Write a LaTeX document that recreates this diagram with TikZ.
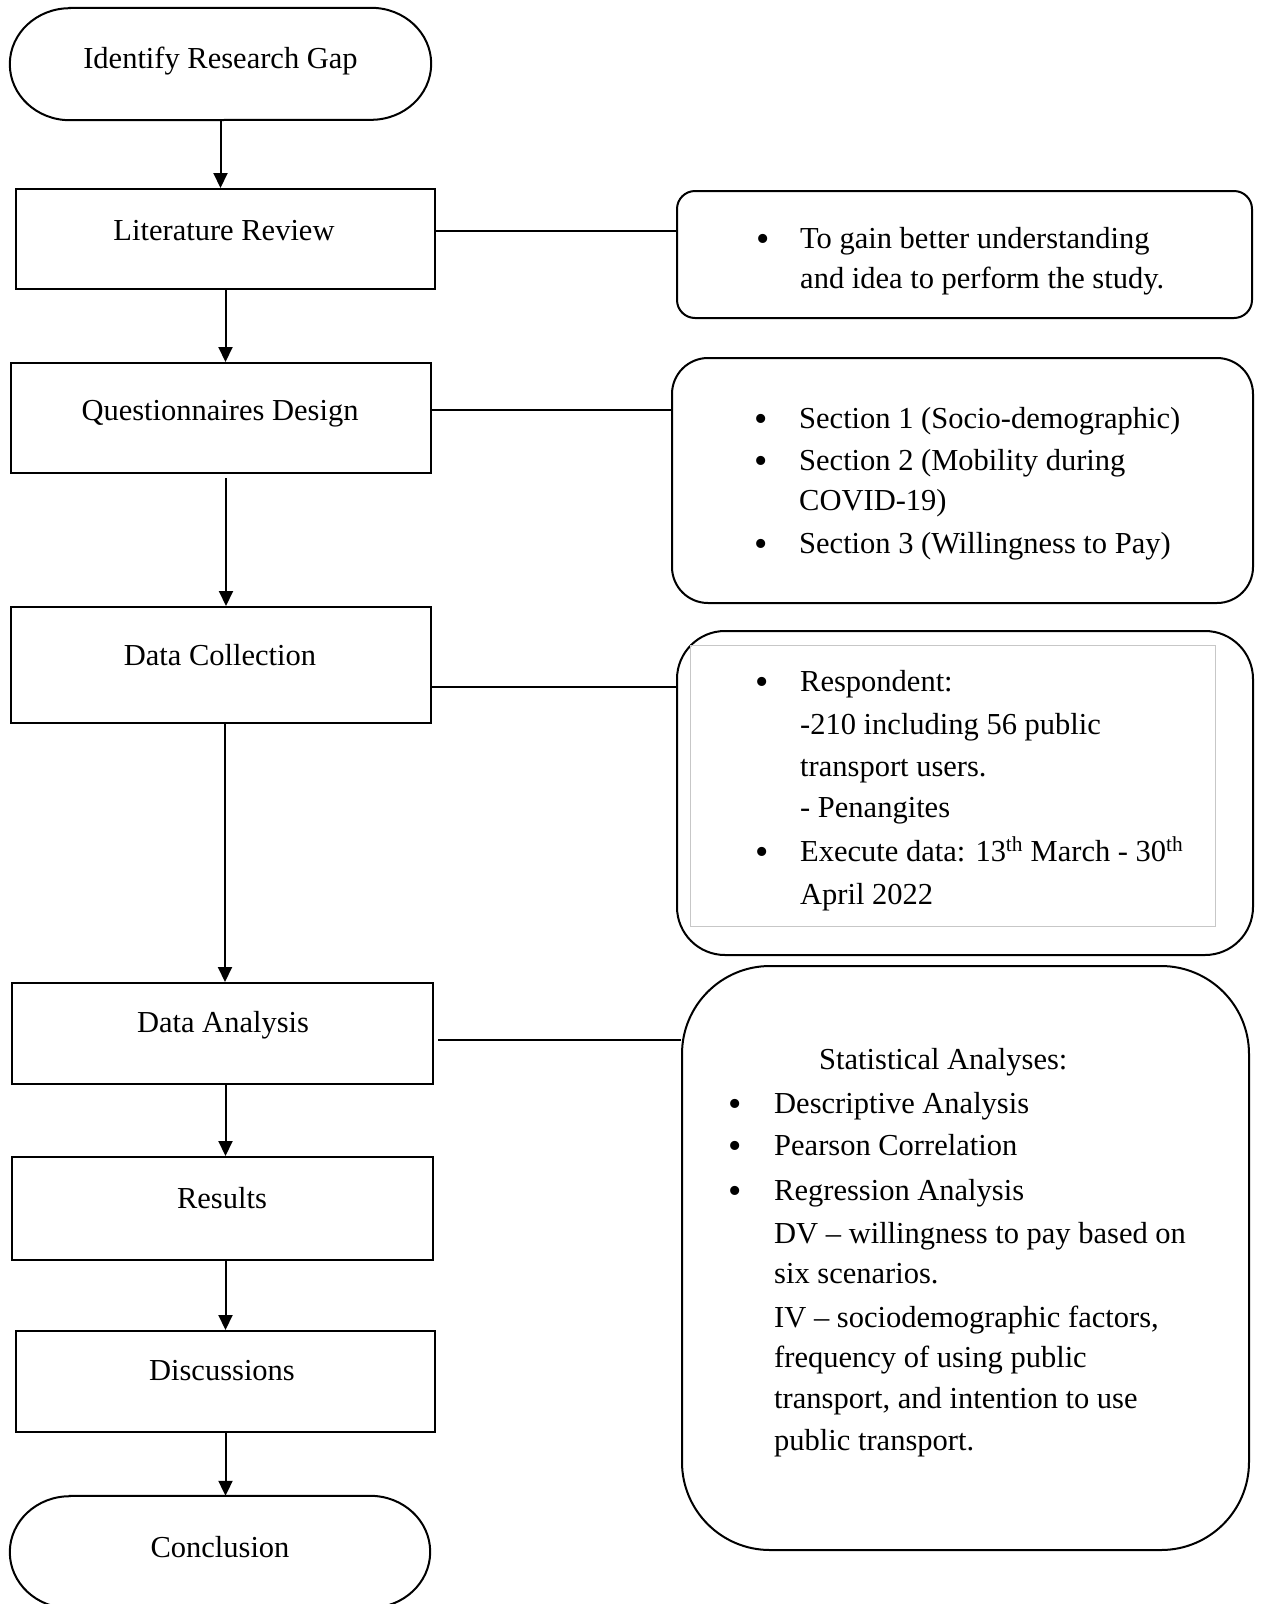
\documentclass[tikz,border=0pt]{standalone}
\usepackage{fontspec}
\setmainfont{Liberation Serif}
\usetikzlibrary{arrows.meta}
\tikzset{
  box/.style={draw, line width=2pt, rectangle, inner sep=0pt},
  rbox/.style={draw, line width=2pt, rectangle, inner sep=0pt},
  txt/.style={inner sep=0pt, font=\fontsize{30.5}{41}\selectfont},
  bul/.style={inner sep=0pt, yshift=-3pt, font=\fontsize{38}{41}\selectfont},
  arr/.style={line width=2pt, -{Triangle[width=14pt,length=15pt]}},
  conn/.style={line width=2pt},
}
\newcommand\ovalpath[1]{%
  \draw[line width=2pt] ([xshift=60pt]#1.north west) -- ([xshift=-60pt]#1.north east)
    arc[start angle=90, end angle=-90, x radius=60pt, y radius=56pt]
    -- ([xshift=60pt]#1.south west)
    arc[start angle=270, end angle=90, x radius=60pt, y radius=56pt] -- cycle;}
\begin{document}
\begin{tikzpicture}[x=1pt,y=-1pt]
\useasboundingbox[fill=white] (0,0) rectangle (1262,1604);

% left column
\node[inner sep=0pt, minimum width=421pt, minimum height=112pt] (gap) at (220.5,64) {};
\ovalpath{gap}
\node[box, minimum width=419pt, minimum height=100pt] (lit) at (225.5,239) {};
\node[box, minimum width=420pt, minimum height=110pt] (quest) at (221,418) {};
\node[box, minimum width=420pt, minimum height=116pt] (data) at (221,665) {};
\node[box, minimum width=421pt, minimum height=101pt] (anal) at (222.5,1033.5) {};
\node[box, minimum width=421pt, minimum height=103pt] (res) at (222.5,1208.5) {};
\node[box, minimum width=419pt, minimum height=101pt] (disc) at (225.5,1381.5) {};
\node[inner sep=0pt, minimum width=420pt, minimum height=112pt] (concl) at (220,1552) {};
\ovalpath{concl}

\node[txt, anchor=base] (gapT) at (220.5,68) {Identify Research Gap};
\node[txt, anchor=base] (litT) at (224,240) {Literature Review};
\node[txt, anchor=base] (questT) at (220,420) {Questionnaires Design};
\node[txt, anchor=base] (dataT) at (220,665) {Data Collection};
\node[txt, anchor=base] (analT) at (223,1032) {Data Analysis};
\node[txt, anchor=base] (resT) at (222,1208) {Results};
\node[txt, anchor=base] (discT) at (222,1380) {Discussions};
\node[txt, anchor=base] (conclT) at (220,1557) {Conclusion};

% arrows
\draw[arr] (gap.south) -- (gap.south |- lit.north);
\draw[arr] (lit.south) -- (lit.south |- quest.north);
\path ([xshift=5pt]quest.south) coordinate (q1);
\draw[arr] ([yshift=-4pt]q1) -- (q1 |- data.north);
\path ([xshift=4pt]data.south) coordinate (d1);
\draw[arr] (d1) -- (d1 |- anal.north);
\path ([xshift=3pt]anal.south) coordinate (a1);
\draw[arr] (a1) -- (a1 |- res.north);
\path ([xshift=3pt]res.south) coordinate (r1);
\draw[arr] (r1) -- (r1 |- disc.north);
\draw[arr] (disc.south) -- (disc.south |- concl.north);

% right boxes
\node[rbox, rounded corners=18pt, minimum width=575pt, minimum height=127pt] (b1) at (964.5,254.5) {};
\node[rbox, rounded corners=36pt, minimum width=581pt, minimum height=245pt] (b2) at (962.5,480.5) {};
\node[rbox, rounded corners=48pt, minimum width=576pt, minimum height=324pt] (b3) at (965,793) {};
\node[draw=black!22, line width=1pt, inner sep=0pt, minimum width=525pt, minimum height=281pt] (b3in) at (952.5,785.5) {};
\node[rbox, rounded corners=88pt, minimum width=567pt, minimum height=584pt] (b4) at (965.5,1258) {};

% connectors
\path ([yshift=8pt]lit.east) coordinate (c1);
\draw[conn] (c1) -- (c1 -| b1.west);
\path ([yshift=8pt]quest.east) coordinate (c2);
\draw[conn] (c2) -- (c2 -| b2.west);
\path ([yshift=-22pt]data.east) coordinate (c3);
\draw[conn] (c3) -- (c3 -| b3.west);
\path ([yshift=-6.5pt,xshift=4pt]anal.east) coordinate (c4);
\draw[conn] (c4) -- (c4 -| b4.west);

% box 1 text
\node[bul, anchor=base] (b1u1) at (763,248) {\textbullet};
\node[txt, anchor=base west] (b1l1) at (800,248) {To gain better understanding};
\node[txt, anchor=base west] (b1l2) at (800,288) {and idea to perform the study.};

% box 2 text
\node[bul, anchor=base] (b2u1) at (761,428) {\textbullet};
\node[txt, anchor=base west] (b2l1) at (799,428) {Section 1 (Socio-demographic)};
\node[bul, anchor=base] (b2u2) at (761,470) {\textbullet};
\node[txt, anchor=base west] (b2l2) at (799,470) {Section 2 (Mobility during};
\node[txt, anchor=base west] (b2l3) at (799,510) {COVID-19)};
\node[bul, anchor=base] (b2u4) at (761,553) {\textbullet};
\node[txt, anchor=base west] (b2l4) at (799,553) {Section 3 (Willingness to Pay)};

% box 3 text
\node[bul, anchor=base] (b3u1) at (762,691) {\textbullet};
\node[txt, anchor=base west] (b3l1) at (800,691) {Respondent:};
\node[txt, anchor=base west] (b3l2) at (800,734) {-210 including 56 public};
\node[txt, anchor=base west] (b3l3) at (800,776) {transport users.};
\node[txt, anchor=base west] (b3l4) at (800,817) {- Penangites};
\node[bul, anchor=base] (b3u5) at (762,861) {\textbullet};
\node[txt, anchor=base west] (b3l5) at (800,861) {Execute data: 13\textsuperscript{th} March - 30\textsuperscript{th}};
\node[txt, anchor=base west] (b3l6) at (800,904) {April 2022};

% box 4 text
\node[txt, anchor=base west] (b4h) at (819,1069) {Statistical Analyses:};
\node[bul, anchor=base] (b4u1) at (735,1113) {\textbullet};
\node[txt, anchor=base west] (b4l1) at (774,1113) {Descriptive Analysis};
\node[bul, anchor=base] (b4u2) at (735,1155) {\textbullet};
\node[txt, anchor=base west] (b4l2) at (774,1155) {Pearson Correlation};
\node[bul, anchor=base] (b4u3) at (735,1200) {\textbullet};
\node[txt, anchor=base west] (b4l3) at (774,1200) {Regression Analysis};
\node[txt, anchor=base west] (b4l4) at (774,1243) {DV -- willingness to pay based on};
\node[txt, anchor=base west] (b4l5) at (774,1283) {six scenarios.};
\node[txt, anchor=base west] (b4l6) at (774,1327) {IV -- sociodemographic factors,};
\node[txt, anchor=base west] (b4l7) at (774,1367) {frequency of using public};
\node[txt, anchor=base west] (b4l8) at (774,1408) {transport, and intention to use};
\node[txt, anchor=base west] (b4l9) at (774,1450) {public transport.};
\end{tikzpicture}
\end{document}
